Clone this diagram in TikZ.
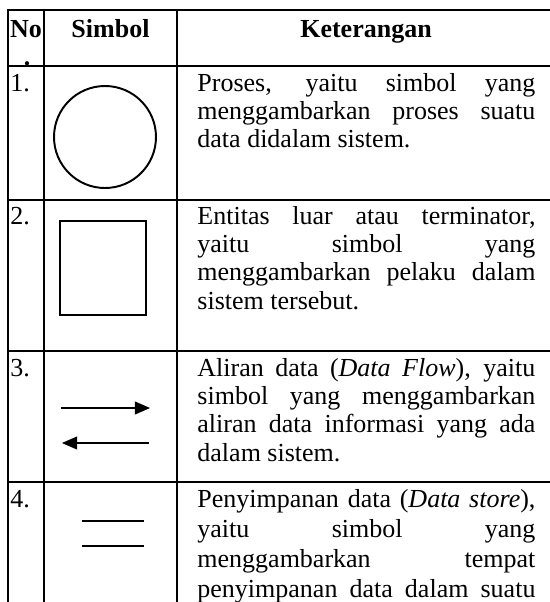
\documentclass[tikz,border=0pt]{standalone}
\usepackage{fontspec}
\setmainfont{Liberation Serif}
\usetikzlibrary{arrows.meta}

\newcommand\nohyph{\hyphenpenalty=10000 \exhyphenpenalty=10000 }

\begin{document}
\begin{tikzpicture}[x=0.4615pt,y=-0.4615pt,
    font=\fontsize{12}{13.15}\selectfont,
    grid/.style={line width=0.9pt, line cap=rect},
    head/.style={inner sep=0pt, anchor=base, font=\fontsize{12}{13.15}\selectfont\bfseries},
    cell/.style={inner sep=0pt, anchor=base west},
    desc/.style={inner sep=0pt, anchor=base west, text width=156pt, align=justify,
        font={\fontsize{12}{13.15}\selectfont\nohyph}},
    flow/.style={line width=0.5pt, -{Triangle[length=7pt,width=6pt]}}]

    \useasboundingbox (0, 0) rectangle (550, 602);
    \clip (0, 0) rectangle (550, 602);

    % Grid
    \foreach \y in {10, 66, 200, 351, 482}
        \draw[grid] (8, \y) -- (570, \y);
    \foreach \x in {8, 44, 177}
        \draw[grid] (\x, 10) -- (\x, 620);

    % Header
    \node[head] (hNo) at (26, 37) {No};
    \node[head] (hDot) at (27, 65) {.};
    \node[head] (hSym) at (110.5, 37) {Simbol};
    \node[head] (hDesc) at (366, 37) {Keterangan};

    % Numbers
    \node[cell] (n1) at (10, 91) {1.};
    \node[cell] (n2) at (10, 224) {2.};
    \node[cell] (n3) at (10, 376) {3.};
    \node[cell] (n4) at (10, 507) {4.};

    % Process
    \draw[line width=0.9pt] (105, 137) ellipse [x radius=51, y radius=51];

    % Terminator
    \draw[line width=0.8pt] (60, 221) rectangle (146, 315);

    % Data flow
    \coordinate (f1a) at (61, 408);
    \coordinate (f1b) at (150, 408);
    \coordinate (f2a) at (149, 443);
    \coordinate (f2b) at (62, 443);
    \draw[flow] (f1a) -- (f1b);
    \draw[flow] (f2a) -- (f2b);

    % Data store
    \draw[line width=0.6pt] (82, 521) -- (144, 521);
    \draw[line width=0.6pt] (82, 546) -- (144, 546);

    % Descriptions
    \node[desc] (d1) at (197, 91) {Proses, yaitu simbol yang\linebreak
        menggambarkan proses suatu\linebreak data didalam sistem.};
    \node[desc] (d2) at (197, 224) {Entitas luar atau terminator,\linebreak
        yaitu simbol yang\linebreak menggambarkan pelaku dalam\linebreak
        sistem tersebut.};
    \node[desc] (d3) at (197, 376) {Aliran data (\textit{Data Flow}), yaitu\linebreak
        simbol yang menggambarkan\linebreak aliran data informasi yang ada\linebreak
        dalam sistem.};
    \node[desc, font={\fontsize{12}{13.85}\selectfont\nohyph}] (d4) at (197, 507)
        {Penyimpanan data (\textit{Data store}),\linebreak
        yaitu simbol yang\linebreak menggambarkan tempat\linebreak
        penyimpanan data dalam suatu\linebreak\mbox{}};
\end{tikzpicture}
\end{document}
